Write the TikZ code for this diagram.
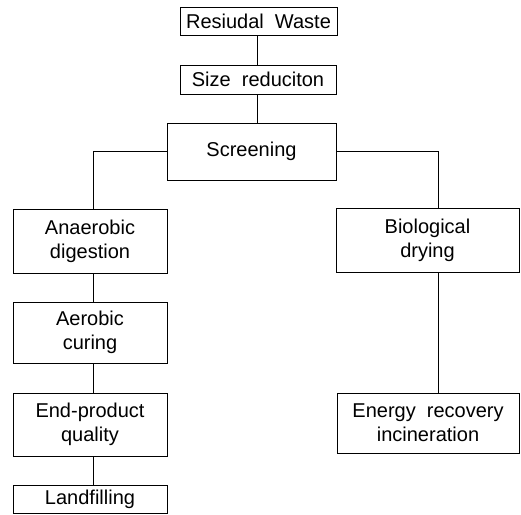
\documentclass[tikz,border=0pt]{standalone}
\usepackage{fontspec}
\setmainfont{Liberation Sans}
\begin{document}
\begin{tikzpicture}[x=1pt,y=-1pt,
  bx/.style={draw,line width=0.9pt,inner sep=0pt,align=center,
    font=\fontsize{20}{24}\selectfont},
  ln/.style={line width=0.9pt}]
\useasboundingbox (0,0) rectangle (521,514);
\node[bx,minimum width=157pt,minimum height=28pt] (rw) at (258.5,21) {Resiudal\ \ Waste};
\node[bx,minimum width=156pt,minimum height=29pt] (sr) at (258,79.5) {Size\ \ reduciton};
\node[bx,minimum width=169pt,minimum height=57pt] (sc) at (251.5,151.5) {Screening};
\node[bx,minimum width=154pt,minimum height=64pt] (ad) at (90,241) {Anaerobic\\digestion};
\node[bx,minimum width=154pt,minimum height=61pt] (ac) at (90,332.5) {Aerobic\\curing};
\node[bx,minimum width=154pt,minimum height=63pt] (ep) at (90,424.5) {End-product\\quality};
\node[bx,minimum width=154pt,minimum height=28pt] (lf) at (90,499) {Landfilling};
\node[bx,minimum width=183pt,minimum height=64pt] (bd) at (427.5,240) {Biological\\drying};
\node[bx,minimum width=182pt,minimum height=60pt] (er) at (428,423) {Energy\ \ recovery\\incineration};
\draw[ln] (257,0 |- rw.south) -- (257,0 |- sr.north);
\draw[ln] (257,0 |- sr.south) -- (257,0 |- sc.north);
\draw[ln] (sc.west) -| (93,0 |- ad.north);
\draw[ln] (sc.east) -| (438,0 |- bd.north);
\draw[ln] (438,0 |- bd.south) -- (438,0 |- er.north);
\draw[ln] (93,0 |- ad.south) -- (93,0 |- ac.north);
\draw[ln] (93,0 |- ac.south) -- (93,0 |- ep.north);
\draw[ln] (93,0 |- ep.south) -- (93,0 |- lf.north);
\end{tikzpicture}
\end{document}
